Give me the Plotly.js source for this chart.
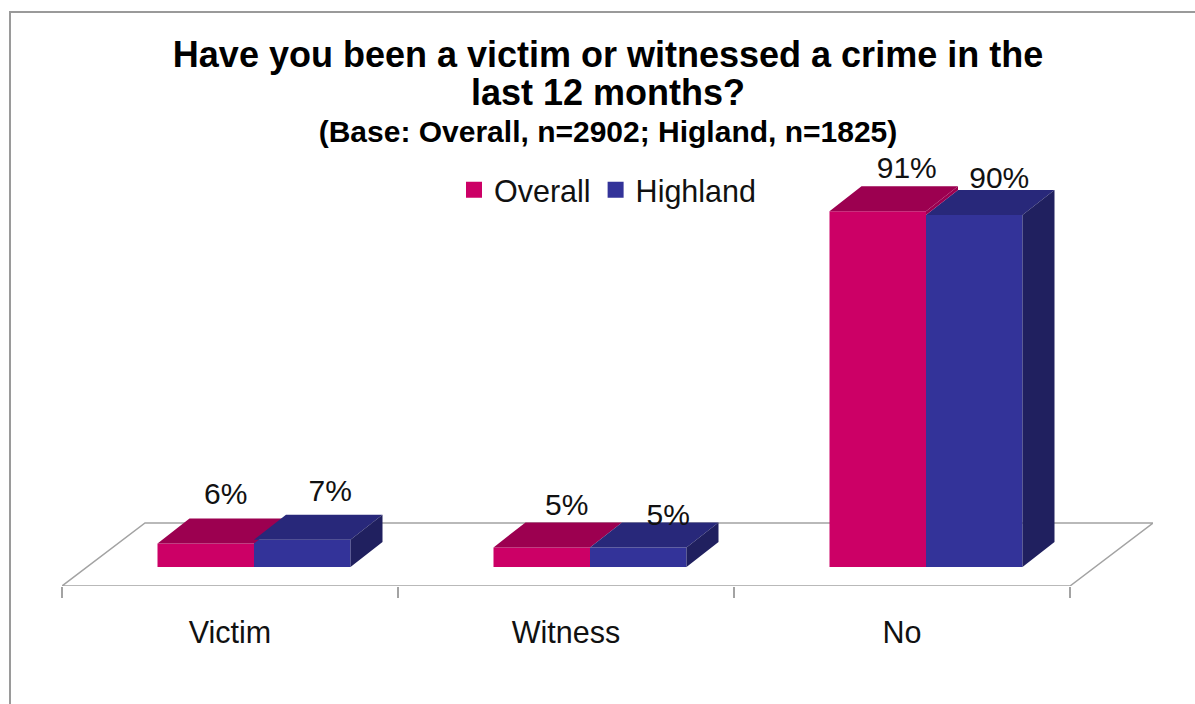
<!DOCTYPE html>
<html>
<head>
<meta charset="utf-8">
<script src="https://cdn.plot.ly/plotly-3.0.1.min.js"></script>
<style>html,body{margin:0;padding:0;background:#fff;overflow:hidden}</style>
</head>
<body>
<div id="chart" style="width:1195px;height:704px"></div>
<script>
// ---- data ----
var categories = ["Victim", "Witness", "No"];
var overall = [6, 5, 91];
var highland = [7, 5, 90];
var seriesNames = ["Overall", "Highland"];

// ---- colours ----
var colFront = ["#CC0066", "#333399"];
var colTop = ["#9C0050", "#28287A"];
var colSide = "#20205F";
var gridGrey = "#A3A3A3";

// ---- geometry (scale of the axes, in pixels) ----
var W = 1195, H = 704;
var pxPerCat = 336, pxPerPct = 3.91;
var L = 62, R = 1153, T = 100, B = 586;
var xmin = -0.5, xmax = xmin + (R - L) / pxPerCat;
var baseY = 567;
var ymin = -(B - baseY) / pxPerPct, ymax = (baseY - T) / pxPerPct;
function dx(p) { return p / pxPerCat; }
function dy(p) { return p / pxPerPct; }
var barW = dx(96.5), groupShift = dx(24);
var depthX = dx(32), depthY = dy(25);
var floorDX = dx(83), floorBack = dy(baseY - 523);
var labelNudgeX = [[20, 25, 29], [28, 30, 25]];
var labelNudgeY = [[47, 40, 41], [46, 30, 35]];

var series = [overall, highland];
var idx = categories.map(function (c, i) { return i; });
var traces = [];

// front faces
series.forEach(function (vals, s) {
  traces.push({
    type: "bar", name: seriesNames[s], showlegend: false, hoverinfo: "skip",
    x: idx.map(function (i) { return i + groupShift + (s === 0 ? -barW / 2 : barW / 2); }),
    y: vals, width: barW,
    marker: { color: colFront[s], line: { width: 0 } }
  });
});

// top and side faces, derived from the values
function faceTrace(xs, ys, color) {
  return { type: "scatter", mode: "lines", x: xs, y: ys, fill: "toself", fillcolor: color,
           line: { width: 0, color: color }, showlegend: false, hoverinfo: "skip", cliponaxis: false };
}
series.forEach(function (vals, s) {
  var xs = [], ys = [];
  vals.forEach(function (v, i) {
    var x0 = i + groupShift + (s === 0 ? -barW : 0), x1 = x0 + barW;
    xs.push(x0, x1, x1 + depthX, x0 + depthX, x0, null);
    ys.push(v, v, v + depthY, v + depthY, v, null);
  });
  traces.push(faceTrace(xs, ys, colTop[s]));
});
// exposed sliver of the Overall side where it stands taller than Highland
(function () {
  var xs = [], ys = [];
  overall.forEach(function (v, i) {
    var h = highland[i];
    if (v <= h) { return; }
    var x1 = i + groupShift;
    xs.push(x1, x1 + depthX, x1 + depthX, x1, x1, null);
    ys.push(h, h + depthY, v + depthY, v, h, null);
  });
  traces.push(faceTrace(xs, ys, colTop[0]));
})();
// side of the Highland bars
(function () {
  var xs = [], ys = [];
  highland.forEach(function (v, i) {
    var x1 = i + groupShift + barW;
    xs.push(x1, x1 + depthX, x1 + depthX, x1, x1, null);
    ys.push(0, depthY, v + depthY, v, 0, null);
  });
  traces.push(faceTrace(xs, ys, colSide));
})();

// data labels
series.forEach(function (vals, s) {
  traces.push({
    type: "scatter", mode: "text", showlegend: false, hoverinfo: "skip", cliponaxis: false,
    x: idx.map(function (i) { return i + groupShift + (s === 0 ? -barW / 2 : barW / 2) + dx(labelNudgeX[s][i]); }),
    y: vals.map(function (v, i) { return v + dy(labelNudgeY[s][i]); }),
    text: vals.map(function (v) { return v + "%"; }),
    textposition: "middle center",
    textfont: { family: "Liberation Sans, Arial, sans-serif", size: 30, color: "#111" }
  });
});

// legend entries
seriesNames.forEach(function (n, s) {
  traces.push({
    type: "scatter", mode: "markers", name: n, x: [null], y: [null], hoverinfo: "skip",
    marker: { symbol: "square", size: 16, color: colFront[s] }
  });
});

function px2paperX(p) { return (p - L) / (R - L); }
function px2paperY(p) { return (B - p) / (B - T); }

var floorPath = "M" + xmin + "," + ymin + " L" + (xmin + 3) + "," + ymin +
  " L" + (xmin + 3 + floorDX) + "," + floorBack + " L" + (xmin + floorDX) + "," + floorBack + " Z";
var framePath = "M" + px2paperX(10) + "," + px2paperY(H) + " L" + px2paperX(10) + "," + px2paperY(12) +
  " L" + px2paperX(W) + "," + px2paperY(12);

var layout = {
  width: W, height: H, showlegend: true,
  margin: { l: L, r: W - R, t: T, b: H - B, pad: 0 },
  paper_bgcolor: "#fff", plot_bgcolor: "rgba(0,0,0,0)",
  barmode: "overlay",
  font: { family: "Liberation Sans, Arial, sans-serif", color: "#111" },
  title: {
    text: '<b><span style="font-size:36px">Have you been a victim or witnessed a crime in the</span><br>' +
          '<span style="font-size:36px">last 12 months?</span><br>' +
          '<span style="font-size:30px">(Base: Overall, n=2902; Higland, n=1825)</span></b>',
    font: { family: "Liberation Sans, Arial, sans-serif", size: 29, color: "#000" },
    x: 608 / W, xanchor: "center", xref: "container",
    y: 1 - 67 / H, yanchor: "middle", yref: "container"
  },
  xaxis: {
    range: [xmin, xmax], showgrid: false, zeroline: false, showline: false,
    tickmode: "array", tickvals: idx, ticktext: categories, ticks: "",
    tickfont: { size: 30.5, color: "#111" }, ticklabelstandoff: 25,
    minor: { tickmode: "array", tickvals: [-0.5, 0.5, 1.5, 2.5], ticks: "outside", ticklen: 11, tickwidth: 1.5, tickcolor: gridGrey, showgrid: false }
  },
  yaxis: { range: [ymin, ymax], visible: false, fixedrange: true },
  legend: {
    orientation: "h", x: px2paperX(454), xanchor: "left", y: px2paperY(190), yanchor: "middle",
    font: { size: 30.5, color: "#111" }, bgcolor: "rgba(0,0,0,0)",
    itemclick: false, itemdoubleclick: false
  },
  shapes: [
    { type: "path", layer: "below", xref: "x", yref: "y", path: floorPath, fillcolor: "#fff", line: { color: gridGrey, width: 1.5 } },
    { type: "path", layer: "below", xref: "paper", yref: "paper", path: framePath, line: { color: "#9A9A9A", width: 2 } }
  ]
};

Plotly.newPlot("chart", traces, layout, { displayModeBar: false, responsive: false });
</script>
</body>
</html>
